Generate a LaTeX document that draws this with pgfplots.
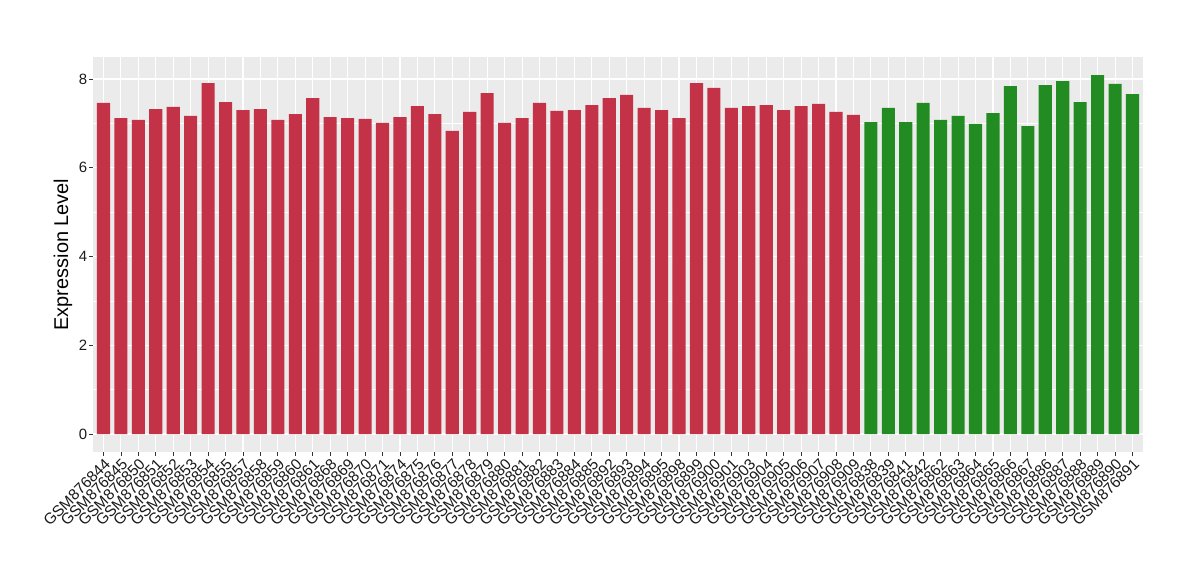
\documentclass[border=0pt]{standalone}
\usepackage{pgfplots}
\pgfplotsset{compat=1.18}
\usepackage{fontspec}
\setmainfont{Liberation Sans}
\definecolor{barred}{RGB}{196,50,72}
\definecolor{bargreen}{RGB}{34,139,34}
\definecolor{panelbg}{RGB}{235,235,235}
\definecolor{ticktext}{RGB}{26,26,26}
\definecolor{tickcol}{RGB}{51,51,51}
\begin{document}
\begin{tikzpicture}
\begin{axis}[
  scale only axis,
  width=1050bp, height=395bp,
  xmin=0.4, xmax=60.6,
  ymin=-0.405, ymax=8.496,
  axis line style={draw=none},
  axis background/.style={fill=panelbg},
  xtick={1,...,60},
  xtick pos=bottom, ytick pos=left,
  xticklabels={GSM876844,GSM876845,GSM876850,GSM876851,GSM876852,GSM876853,GSM876854,GSM876855,GSM876857,GSM876858,GSM876859,GSM876860,GSM876861,GSM876868,GSM876869,GSM876870,GSM876871,GSM876874,GSM876875,GSM876876,GSM876877,GSM876878,GSM876879,GSM876880,GSM876881,GSM876882,GSM876883,GSM876884,GSM876885,GSM876892,GSM876893,GSM876894,GSM876895,GSM876898,GSM876899,GSM876900,GSM876901,GSM876903,GSM876904,GSM876905,GSM876906,GSM876907,GSM876908,GSM876909,GSM876838,GSM876839,GSM876841,GSM876842,GSM876862,GSM876863,GSM876864,GSM876865,GSM876866,GSM876867,GSM876886,GSM876887,GSM876888,GSM876889,GSM876890,GSM876891},
  ytick={0,2,4,6,8},
  minor ytick={1,3,5,7},
  grid=both,
  major grid style={white, line width=1.1bp},
  minor grid style={white, line width=0.5bp},
  tick align=outside,
  major tick length=3.5bp,
  minor tick length=0pt,
  tick style={tickcol, line width=0.8bp},
  /pgf/number format/assume math mode=true,
  xticklabel style={rotate=45, anchor=north east, font=\fontsize{15.5}{17}\selectfont, text=ticktext, inner sep=1.5bp},
  yticklabel style={font=\fontsize{15}{18}\selectfont, text=ticktext, inner sep=2bp},
  ylabel={Expression Level},
  ylabel style={at={(axis description cs:-0.0165,0.5)}, anchor=south, font=\fontsize{20}{24}\selectfont},
  clip=false,
]
\addplot[ybar, bar width=0.75, fill=barred, draw=none, bar shift=0pt] table {
x y
1 7.46
2 7.12
3 7.08
4 7.32
5 7.37
6 7.17
7 7.91
8 7.48
9 7.30
10 7.32
11 7.08
12 7.21
13 7.57
14 7.14
15 7.12
16 7.10
17 7.01
18 7.14
19 7.39
20 7.21
21 6.83
22 7.26
23 7.68
24 7.01
25 7.12
26 7.46
27 7.28
28 7.30
29 7.41
30 7.57
31 7.64
32 7.35
33 7.30
34 7.12
35 7.91
36 7.80
37 7.35
38 7.39
39 7.41
40 7.30
41 7.39
42 7.44
43 7.26
44 7.19
};
\addplot[ybar, bar width=0.75, fill=bargreen, draw=none, bar shift=0pt] table {
x y
45 7.03
46 7.35
47 7.03
48 7.46
49 7.08
50 7.17
51 6.99
52 7.23
53 7.84
54 6.94
55 7.86
56 7.95
57 7.48
58 8.09
59 7.89
60 7.66
};
\end{axis}
\path[use as bounding box] (-93bp,-128bp) rectangle (1107bp,452bp);
\end{tikzpicture}
\end{document}
